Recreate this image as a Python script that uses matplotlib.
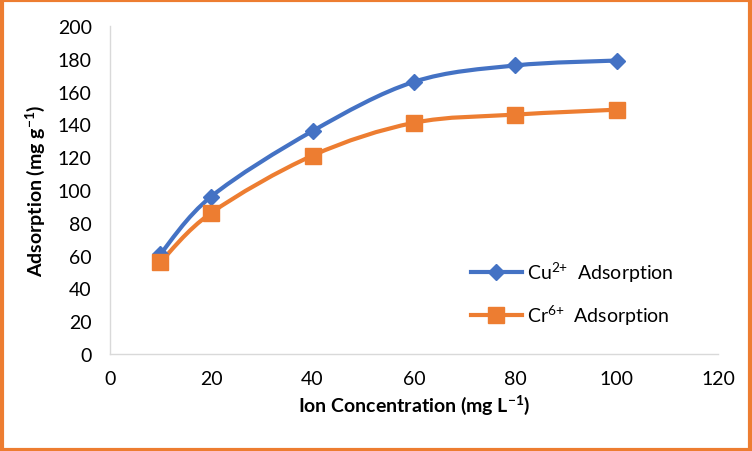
import numpy as np
import matplotlib
matplotlib.use("Agg")
import matplotlib.pyplot as plt
from matplotlib.path import Path
from matplotlib.patches import PathPatch, Rectangle
from matplotlib.lines import Line2D

plt.rcParams['font.family'] = ['Lato', 'DejaVu Sans']
plt.rcParams['mathtext.fontset'] = 'custom'
plt.rcParams['mathtext.rm'] = 'Lato'
plt.rcParams['mathtext.bf'] = 'Lato:bold'
plt.rcParams['mathtext.default'] = 'regular'

# data
conc = [10, 20, 40, 60, 80, 100]
cu_ads = [61, 96, 136, 166, 176, 179]
cr_ads = [56, 86, 121, 141, 146, 149]
x_ticks = [0, 20, 40, 60, 80, 100, 120]
y_ticks = [0, 20, 40, 60, 80, 100, 120, 140, 160, 180, 200]

blue = "#4472C4"
orange = "#ED7D31"


def smooth_path(x, y):
    # excel-like smoothed line: cubic bezier with catmull-rom control points
    p = np.column_stack([x, y]).astype(float)
    verts = [p[0]]
    codes = [Path.MOVETO]
    n = len(p)
    for i in range(n - 1):
        p0 = p[i - 1] if i > 0 else p[i]
        p3 = p[i + 2] if i + 2 < n else p[i + 1]
        c1 = p[i] + (p[i + 1] - p0) / 6.0
        c2 = p[i + 1] - (p3 - p[i]) / 6.0
        verts += [c1, c2, p[i + 1]]
        codes += [Path.CURVE4] * 3
    return Path(verts, codes)


fig = plt.figure(figsize=(7.52, 4.52), dpi=100)
ax = fig.add_axes([0.146, 0.215, 0.809, 0.725])

for yv, col, mk, ms in [(cu_ads, blue, "D", 8), (cr_ads, orange, "s", 11)]:
    ax.add_patch(PathPatch(smooth_path(conc, yv), facecolor="none",
                           edgecolor=col, linewidth=3.0, capstyle="round"))
    ax.plot(conc, yv, linestyle="none", marker=mk, markersize=ms,
            color=col, markeredgecolor=col)

ax.set_xlim(0, 120)
ax.set_ylim(0, 200)
ax.set_xticks(x_ticks)
ax.set_yticks(y_ticks)
ax.tick_params(axis="x", length=0, labelsize=14, pad=12)
ax.tick_params(axis="y", length=0, labelsize=14, pad=13)
for s in ["top", "right"]:
    ax.spines[s].set_visible(False)
for s in ["left", "bottom"]:
    ax.spines[s].set_color("#D9D9D9")
    ax.spines[s].set_linewidth(1)

ax.set_xlabel("Ion Concentration (mg L$^{-1}$)", fontsize=14, fontweight="bold", labelpad=4)
ax.set_ylabel("Adsorption (mg g$^{-1}$)", fontsize=14, fontweight="bold", labelpad=8)

handles = [
    Line2D([], [], color=blue, linewidth=3.0, marker="D", markersize=8),
    Line2D([], [], color=orange, linewidth=3.0, marker="s", markersize=11),
]
ax.legend(handles, ["Cu$^{2{+}}$  Adsorption", "Cr$^{6{+}}$  Adsorption"], frameon=False,
          fontsize=14, loc="upper left", bbox_to_anchor=(0.565, 0.34),
          handlelength=2.6, handletextpad=0.3, labelspacing=0.95)

fig.add_artist(Rectangle((0.002, 0.003), 0.996, 0.994, transform=fig.transFigure,
                         fill=False, edgecolor=orange, linewidth=3))

fig.savefig("out.png", dpi=100)
